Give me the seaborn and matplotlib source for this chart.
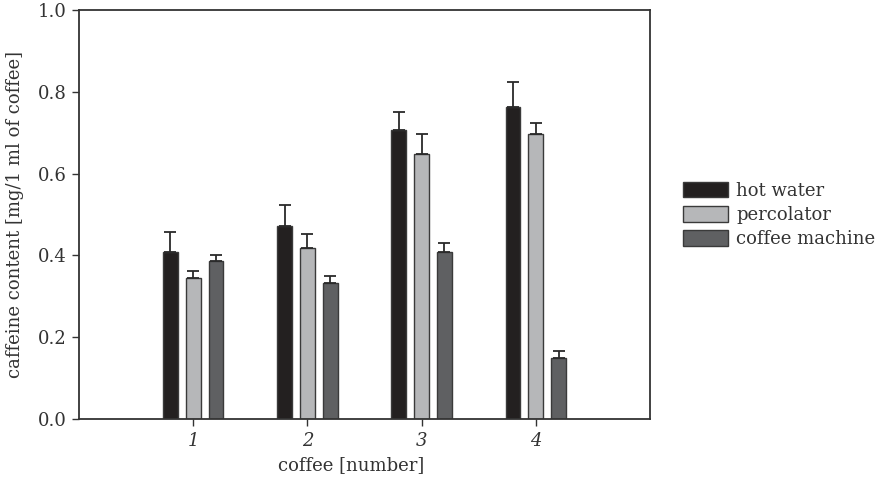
import matplotlib
matplotlib.use("Agg")
import matplotlib.pyplot as plt
import seaborn as sns
import pandas as pd
import numpy as np

coffees = ["1", "2", "3", "4"]
methods = ["hot water", "percolator", "coffee machine"]
hot_water = [0.408, 0.473, 0.707, 0.764]
percolator = [0.345, 0.418, 0.649, 0.697]
coffee_machine = [0.387, 0.332, 0.408, 0.150]
err_hot_water = [0.050, 0.050, 0.044, 0.061]
err_percolator = [0.018, 0.034, 0.048, 0.027]
err_coffee_machine = [0.014, 0.018, 0.023, 0.016]
colors = ["#231f20", "#b6b7b9", "#5f6062"]

sns.set_theme(style="white")
plt.rcParams["font.family"] = ["DejaVu Serif"]
plt.rcParams["mathtext.fontset"] = "dejavuserif"

vals = [hot_water, percolator, coffee_machine]
errs = [err_hot_water, err_percolator, err_coffee_machine]
rows = []
for m, v, e in zip(methods, vals, errs):
    for c, vv, ee in zip(coffees, v, e):
        rows.append({"coffee": c, "method": m, "value": vv, "err": ee})
df = pd.DataFrame(rows)

fig = plt.figure(figsize=(8.87, 4.83), dpi=100)
ax = fig.add_axes([79 / 887, 64 / 483, 571 / 887, 409 / 483])

sns.barplot(data=df, x="coffee", y="value", hue="method", order=coffees,
            hue_order=methods, palette=colors, width=0.6, gap=0.35,
            errorbar=None, edgecolor="#3a3a3a", linewidth=1.0, ax=ax,
            legend=True)

# error bars (upper only) placed at bar centres
for container, m in zip(ax.containers, methods):
    sub = df[df["method"] == m].set_index("coffee").loc[coffees]
    xs = [p.get_x() + p.get_width() / 2 for p in container.patches]
    ax.errorbar(xs, sub["value"].values,
                yerr=[np.zeros(len(xs)), sub["err"].values],
                fmt="none", ecolor="#2a2a2a", elinewidth=1.3,
                capsize=4.0, capthick=1.3, zorder=1)

ax.set_xlim(-1, 4)
ax.set_ylim(0, 1.0)
ax.set_yticks([0.0, 0.2, 0.4, 0.6, 0.8, 1.0])
ax.set_yticklabels(["0.0", "0.2", "0.4", "0.6", "0.8", "1.0"])
ax.set_xticks(range(4))
ax.set_xticklabels(coffees, fontstyle="italic")
ax.tick_params(axis="both", which="both", direction="out", length=5,
               width=1.0, color="#333333", labelsize=13,
               labelcolor="#333333", left=True, bottom=True, pad=4)
for s in ax.spines.values():
    s.set_visible(True)
    s.set_color("#333333")
    s.set_linewidth(1.3)

ax.set_xlabel("coffee [number]", fontsize=13, color="#333333", labelpad=4)
ax.xaxis.set_label_coords(0.476, -0.09)
ax.set_ylabel("caffeine content [mg/1 ml of coffee]", fontsize=13,
              color="#333333", labelpad=10)

ax.legend(loc="center left", bbox_to_anchor=(683 / 887, 0.555),
          bbox_transform=fig.transFigure, frameon=False, fontsize=13,
          handlelength=2.5, handleheight=0.95, labelspacing=0.35,
          handletextpad=0.45, borderpad=0, borderaxespad=0,
          labelcolor="#333333", title=None)

fig.savefig("out.png", dpi=100)
